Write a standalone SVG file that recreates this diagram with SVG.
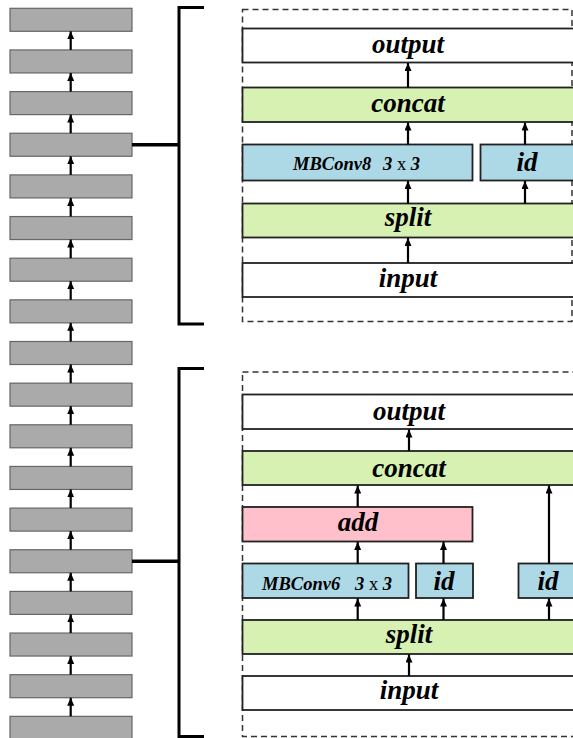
<svg xmlns="http://www.w3.org/2000/svg" width="573" height="738" viewBox="0 0 573 738">
<style>
.blk{fill:#aaaaaa;stroke:#666;stroke-width:1.2}
.b{stroke:#222;stroke-width:1.8}
.w{fill:#ffffff}
.g{fill:#d6f1b2}
.c{fill:#add8e6}
.p{fill:#ffc0cb}
.dash{fill:none;stroke:#333;stroke-width:1.5;stroke-dasharray:6 4}
.br{fill:none;stroke:#000;stroke-width:3}
.ar{stroke:#000;stroke-width:2.2;fill:none;marker-end:url(#ah)}
.t{font-family:"Liberation Serif","Times New Roman",serif;font-weight:bold;font-style:italic;font-size:27px;text-anchor:middle;fill:#000}
.s{font-family:"Liberation Serif","Times New Roman",serif;font-weight:bold;font-style:italic;font-size:18.5px;fill:#000}
.x{font-weight:normal;font-style:normal}
</style>
<defs>
<marker id="ah" markerWidth="8" markerHeight="7" refX="8" refY="3.5" orient="auto" markerUnits="userSpaceOnUse" viewBox="0 0 8 7">
<path d="M0,0 L8,3.5 L0,7 Z" fill="#000"/>
</marker>
</defs>
<g id="stack">
<rect class="blk" x="10" y="8.3" width="122" height="23"/>
<rect class="blk" x="10" y="49.95" width="122" height="23"/>
<rect class="blk" x="10" y="91.6" width="122" height="23"/>
<rect class="blk" x="10" y="133.25" width="122" height="23"/>
<rect class="blk" x="10" y="174.9" width="122" height="23"/>
<rect class="blk" x="10" y="216.55" width="122" height="23"/>
<rect class="blk" x="10" y="258.2" width="122" height="23"/>
<rect class="blk" x="10" y="299.85" width="122" height="23"/>
<rect class="blk" x="10" y="341.5" width="122" height="23"/>
<rect class="blk" x="10" y="383.15" width="122" height="23"/>
<rect class="blk" x="10" y="424.8" width="122" height="23"/>
<rect class="blk" x="10" y="466.45" width="122" height="23"/>
<rect class="blk" x="10" y="508.1" width="122" height="23"/>
<rect class="blk" x="10" y="549.75" width="122" height="23"/>
<rect class="blk" x="10" y="591.4" width="122" height="23"/>
<rect class="blk" x="10" y="633.05" width="122" height="23"/>
<rect class="blk" x="10" y="674.7" width="122" height="23"/>
<rect class="blk" x="10" y="716.35" width="122" height="23"/>
</g>
<g id="stack-arrows">
<line class="ar" x1="70.7" y1="49.95" x2="70.7" y2="31.3"/>
<line class="ar" x1="70.7" y1="91.6" x2="70.7" y2="72.95"/>
<line class="ar" x1="70.7" y1="133.25" x2="70.7" y2="114.6"/>
<line class="ar" x1="70.7" y1="174.9" x2="70.7" y2="156.25"/>
<line class="ar" x1="70.7" y1="216.55" x2="70.7" y2="197.9"/>
<line class="ar" x1="70.7" y1="258.2" x2="70.7" y2="239.55"/>
<line class="ar" x1="70.7" y1="299.85" x2="70.7" y2="281.2"/>
<line class="ar" x1="70.7" y1="341.5" x2="70.7" y2="322.85"/>
<line class="ar" x1="70.7" y1="383.15" x2="70.7" y2="364.5"/>
<line class="ar" x1="70.7" y1="424.8" x2="70.7" y2="406.15"/>
<line class="ar" x1="70.7" y1="466.45" x2="70.7" y2="447.8"/>
<line class="ar" x1="70.7" y1="508.1" x2="70.7" y2="489.45"/>
<line class="ar" x1="70.7" y1="549.75" x2="70.7" y2="531.1"/>
<line class="ar" x1="70.7" y1="591.4" x2="70.7" y2="572.75"/>
<line class="ar" x1="70.7" y1="633.05" x2="70.7" y2="614.4"/>
<line class="ar" x1="70.7" y1="674.7" x2="70.7" y2="656.05"/>
<line class="ar" x1="70.7" y1="716.35" x2="70.7" y2="697.7"/>
</g>
<g id="brackets">
<line x1="132" y1="144.75" x2="179" y2="144.75" stroke="#000" stroke-width="3.5"/>
<path class="br" d="M204,7.5 H179 V324 H204"/>
<line x1="132" y1="561.25" x2="179" y2="561.25" stroke="#000" stroke-width="3.5"/>
<path class="br" d="M204,368.5 H179 V736.5 H204"/>
</g>
<g id="block-top">
<rect class="dash" x="242.5" y="9.5" width="329.5" height="312"/>
<g id="t-output"><rect class="b w" x="242.5" y="28.5" width="340" height="34"/><text class="t" x="408" y="53">output</text></g>
<g id="t-concat"><rect class="b g" x="242.5" y="87.5" width="340" height="34.5"/><text class="t" x="408" y="112">concat</text></g>
<g id="t-mbconv"><rect class="b c" x="242.5" y="144.5" width="230" height="36"/><text class="s" y="169.5"><tspan x="293">MBConv8</tspan><tspan x="383">3 </tspan><tspan class="x">x</tspan><tspan> 3</tspan></text></g>
<g id="t-id"><rect class="b c" x="480.5" y="144.5" width="100" height="36"/><text class="t" x="527" y="171">id</text></g>
<g id="t-split"><rect class="b g" x="242.5" y="203.5" width="340" height="34"/><text class="t" x="408" y="226">split</text></g>
<g id="t-input"><rect class="b w" x="242.5" y="263" width="340" height="34"/><text class="t" x="408" y="287">input</text></g>
</g>
<g id="block-bottom">
<rect class="dash" x="242.5" y="372" width="345" height="364.5"/>
<g id="b-output"><rect class="b w" x="242.5" y="394.5" width="340" height="34.5"/><text class="t" x="409" y="420">output</text></g>
<g id="b-concat"><rect class="b g" x="242.5" y="451" width="340" height="34"/><text class="t" x="409" y="477">concat</text></g>
<g id="b-add"><rect class="b p" x="242.5" y="507" width="230" height="34.5"/><text class="t" x="358" y="531">add</text></g>
<g id="b-mbconv"><rect class="b c" x="242.5" y="563.5" width="166" height="34.5"/><text class="s" y="589.5"><tspan x="262">MBConv6</tspan><tspan x="355">3 </tspan><tspan class="x">x</tspan><tspan> 3</tspan></text></g>
<g id="b-id1"><rect class="b c" x="416" y="563.5" width="57" height="34.5"/><text class="t" x="444" y="590">id</text></g>
<g id="b-id2"><rect class="b c" x="518.5" y="563.5" width="70" height="34.5"/><text class="t" x="548" y="590">id</text></g>
<g id="b-split"><rect class="b g" x="242.5" y="620" width="340" height="34"/><text class="t" x="409" y="643">split</text></g>
<g id="b-input"><rect class="b w" x="242.5" y="676" width="340" height="34"/><text class="t" x="409" y="699">input</text></g>
</g>
<g id="connectors">
<line class="ar" x1="408" y1="87.5" x2="408" y2="63"/>
<line class="ar" x1="408" y1="144.5" x2="408" y2="122.5"/>
<line class="ar" x1="525" y1="144.5" x2="525" y2="122.5"/>
<line class="ar" x1="408" y1="203.5" x2="408" y2="181"/>
<line class="ar" x1="525" y1="203.5" x2="525" y2="181"/>
<line class="ar" x1="408" y1="263" x2="408" y2="238"/>
<line class="ar" x1="409" y1="451" x2="409" y2="429.5"/>
<line class="ar" x1="357.7" y1="507" x2="357.7" y2="485.5"/>
<line class="ar" x1="549" y1="563.5" x2="549" y2="485.5"/>
<line class="ar" x1="357.7" y1="563.5" x2="357.7" y2="542"/>
<line class="ar" x1="443.5" y1="563.5" x2="443.5" y2="542"/>
<line class="ar" x1="357.7" y1="620" x2="357.7" y2="598.5"/>
<line class="ar" x1="443.5" y1="620" x2="443.5" y2="598.5"/>
<line class="ar" x1="549" y1="620" x2="549" y2="598.5"/>
<line class="ar" x1="409" y1="676" x2="409" y2="654.5"/>
</g>
</svg>
